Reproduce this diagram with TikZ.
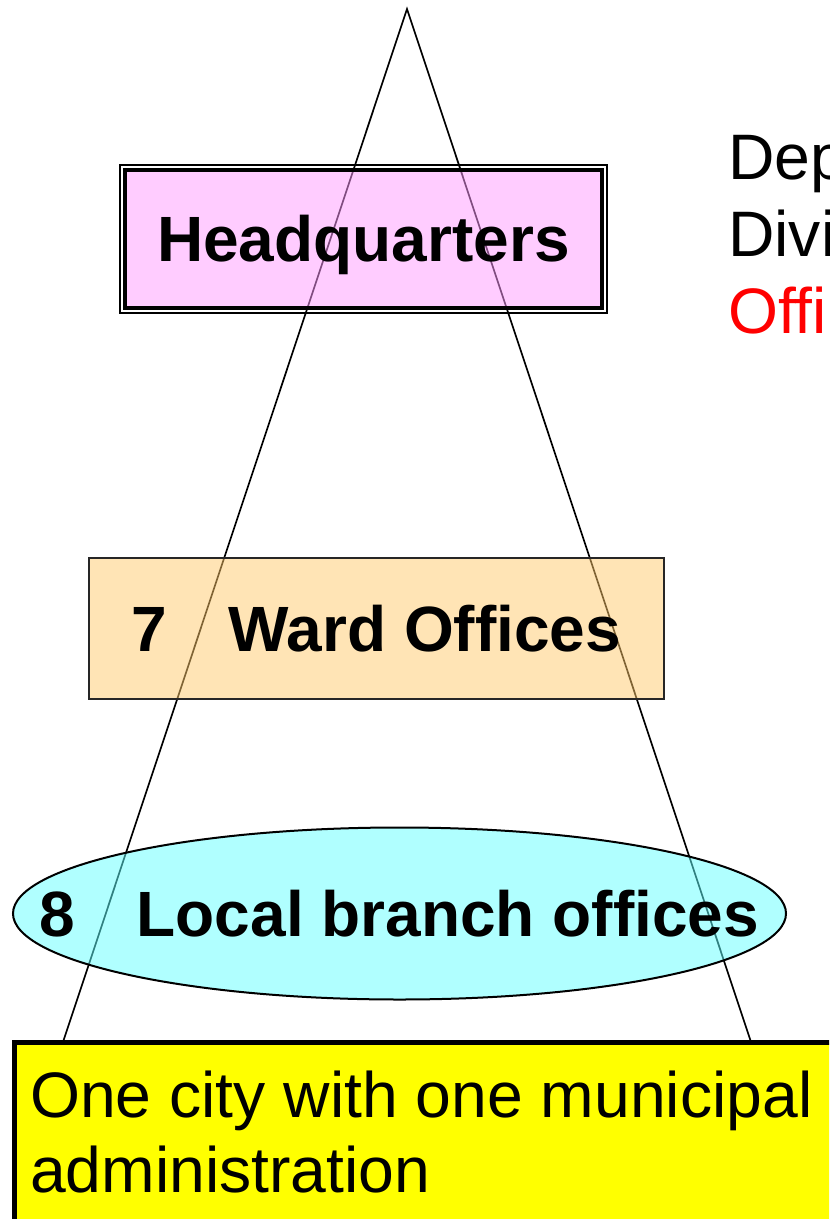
\documentclass[tikz,border=0pt]{standalone}
\usepackage{fontspec}
\setmainfont{Liberation Sans}
\usetikzlibrary{shapes.geometric}
\definecolor{hqpink}{RGB}{255,153,255}
\definecolor{wardfill}{RGB}{255,201,107}
\definecolor{cyanfill}{RGB}{97,255,255}
\definecolor{cityyellow}{RGB}{255,255,0}
\definecolor{offired}{RGB}{255,0,0}
\begin{document}
\begin{tikzpicture}[x=0.75pt,y=-0.75pt,
  boldlabel/.style={font=\fontsize{48pt}{57pt}\selectfont\bfseries, text opacity=1, text height=34.5pt, text depth=0pt, inner sep=0pt},
  plainlabel/.style={font=\fontsize{48.2pt}{57pt}\selectfont, inner sep=0pt, anchor=base west},
  seethrough/.style={fill opacity=0.5, draw opacity=1, outer sep=0pt},
]
\useasboundingbox (0,0) rectangle (829,1219);
\clip (0,0) rectangle (829,1219);

% triangle
\coordinate (apex) at (407,9);
\coordinate (bl) at (63,1042);
\coordinate (br) at (751,1042);
\draw[line width=1.25pt, line join=miter] (bl) -- (apex) -- (br);

% headquarters
\node[boldlabel, seethrough, draw, line width=2.4pt, fill=hqpink,
      minimum width=357.75pt, minimum height=103.5pt] (hq) at (363.5,239) {Headquarters};
\draw[line width=1.1pt] ([shift={(-3.75pt,3.75pt)}]hq.north west) rectangle ([shift={(3.75pt,-3.75pt)}]hq.south east);

% ward offices
\node[boldlabel, seethrough, draw=black!85, line width=1.5pt, fill=wardfill,
      minimum width=431.25pt, minimum height=105.75pt] (ward) at (376.5,628) {7\hspace{46pt}Ward Offices};

% local branch offices
\node[ellipse, seethrough, draw, line width=1.5pt, fill=cyanfill, inner sep=0pt,
      minimum width=579.75pt, minimum height=129pt] (local) at (399.5,913.5) {};
\node[boldlabel] (localtext) at (local.center) {8\hspace{46pt}Local branch offices};

% city box
\node[draw, line width=3.75pt, fill=cityyellow, anchor=north west, outer sep=0pt, inner sep=0pt,
      minimum width=700pt, minimum height=200pt] (city) at (14.5,1042.5) {};
\node[plainlabel] (city1) at (30,1117) {One city with one municipal};
\node[plainlabel] (city2) at (30,1192) {administration};

% right text
\node[plainlabel] (dep) at (728,180) {Dep};
\node[plainlabel] (divi) at (728,257) {Divi};
\node[plainlabel, text=offired] (offi) at (728,333) {Offi};
\end{tikzpicture}
\end{document}
